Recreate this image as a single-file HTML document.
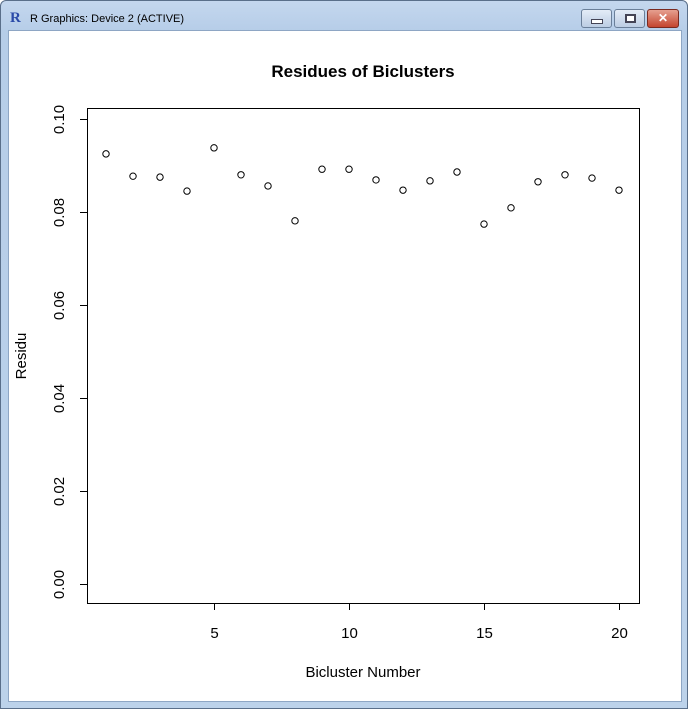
<!DOCTYPE html>
<html><head><meta charset="utf-8"><style>
body{margin:0;width:688px;height:709px;overflow:hidden;font-family:"Liberation Sans",sans-serif}
#win{position:absolute;left:0;top:0;width:686px;height:707px;border:1px solid #5a6f8a;border-radius:6px 6px 0 0;background:linear-gradient(#c4d7ee,#b6cde8 30px,#bcd2ea);}
#client{position:absolute;left:7px;top:29px;width:672px;height:670px;background:#fff;border:1px solid #8ea6c4}
.btn{position:absolute;top:8px;height:17px;border:1px solid #6a7f99;border-radius:3px;background:linear-gradient(#e4ecf7,#bccde3)}
</style></head><body>
<div id="win">
<div style="position:absolute;left:9px;top:9px;color:#2a4aa8;font:bold 15px 'Liberation Serif',serif">R</div>
<div style="position:absolute;left:29px;top:12px;font-size:11px;color:#000">R Graphics: Device 2 (ACTIVE)</div>
<div class="btn" style="left:580px;width:29px"><div style="position:absolute;left:9px;top:9px;width:10px;height:3px;border:1px solid #445;background:#fff"></div></div>
<div class="btn" style="left:613px;width:29px"><div style="position:absolute;left:10px;top:4px;width:7px;height:5px;border:2px solid #445;background:#fff"></div></div>
<div class="btn" style="left:646px;width:30px;background:linear-gradient(#e6a090,#c4452f);border-color:#7a2a20;color:#fff;font:bold 12px sans-serif;text-align:center;line-height:17px">✕</div>
<div id="client"></div>
</div>
<svg width="688" height="709" style="position:absolute;left:0;top:0" id="chart" font-family="Liberation Sans, sans-serif"></svg>
<script>
const xValues=[1,2,3,4,5,6,7,8,9,10,11,12,13,14,15,16,17,18,19,20];
const residues=[0.0925,0.0877,0.0875,0.0845,0.0938,0.0880,0.0856,0.0781,0.0892,0.0892,0.0869,0.0847,0.0867,0.0886,0.0774,0.0809,0.0865,0.0880,0.0873,0.0847];
const xTicks=[5,10,15,20];
const yTicks=[0,0.02,0.04,0.06,0.08,0.10];
const yTickLabels=["0.00","0.02","0.04","0.06","0.08","0.10"];
const NS="http://www.w3.org/2000/svg",svg=document.getElementById('chart');
const sx=v=>106+(v-1)*(619-106)/19, sy=v=>584-v*4650;
function mk(t,a,txt){const e=document.createElementNS(NS,t);for(const k in a)e.setAttribute(k,a[k]);if(txt!=null)e.textContent=txt;svg.appendChild(e);return e;}
let e;
e=mk('rect',{x:87.5,y:108.5,width:552,height:495,fill:'none',stroke:'#000'});


e=mk('text',{x:363,y:77,'text-anchor':'middle','font-size':17,'font-weight':'bold'},'Residues of Biclusters');


e=mk('text',{x:363,y:677,'text-anchor':'middle','font-size':15},'Bicluster Number');


e=mk('text',{x:0,y:0,'text-anchor':'middle','font-size':15,transform:'translate(26,356) rotate(-90)'},'Residu');


mk('line',{x1:sx(5),x2:sx(20),y1:603.5,y2:603.5,stroke:'#000'});
xTicks.forEach(v=>{const X=Math.round(sx(v))+.5;
 mk('line',{x1:X,x2:X,y1:603,y2:610,stroke:'#000'});
 e=mk('text',{x:X,y:638,'text-anchor':'middle','font-size':15},String(v));
 
 });
mk('line',{x1:87.5,x2:87.5,y1:sy(0),y2:sy(0.1),stroke:'#000'});
yTicks.forEach((v,i)=>{const Y=Math.round(sy(v))+.5;
 mk('line',{x1:80,x2:87,y1:Y,y2:Y,stroke:'#000'});
 e=mk('text',{x:0,y:0,'text-anchor':'middle','font-size':15,transform:`translate(64,${Y}) rotate(-90)`},yTickLabels[i]);
 
 });
xValues.forEach((x,i)=>{e=mk('circle',{cx:sx(x),cy:sy(residues[i]),r:3.2,fill:'none',stroke:'#000','stroke-width':1});
 
 });
</script>
</body></html>
